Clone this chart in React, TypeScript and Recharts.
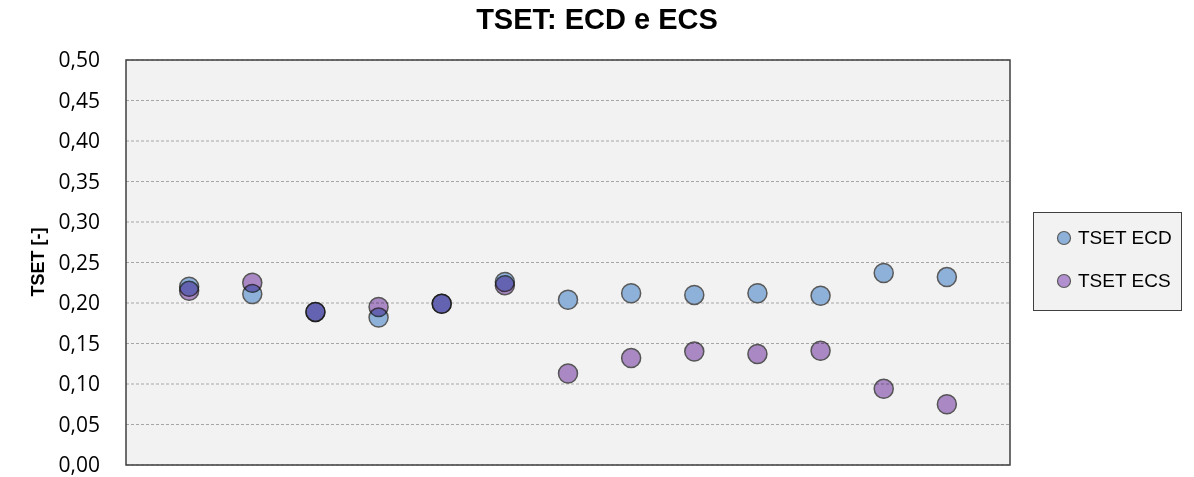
import React from "react";
import {
  ScatterChart,
  Scatter,
  XAxis,
  YAxis,
  CartesianGrid,
  ReferenceArea,
  Label,
} from "recharts";

// 13 campioni, valori
const samples = [1, 2, 3, 4, 5, 6, 7, 8, 9, 10, 11, 12, 13];
const tsetEcd = [0.22, 0.211, 0.189, 0.182, 0.199, 0.226, 0.204, 0.212, 0.21, 0.212, 0.209, 0.237, 0.232];
const tsetEcs = [0.215, 0.225, 0.189, 0.195, 0.199, 0.222, 0.113, 0.132, 0.14, 0.137, 0.141, 0.094, 0.075];
const yTicks = [0, 0.05, 0.1, 0.15, 0.2, 0.25, 0.3, 0.35, 0.4, 0.45, 0.5];

const series = [
  { name: "TSET ECD", values: tsetEcd, fill: "#8EB1DA", blend: "normal" },
  { name: "TSET ECS", values: tsetEcs, fill: "#B28FCF", blend: "multiply" },
];

const fmt = (v: number) => v.toFixed(2).replace(".", ",");

const Marker = (fill: string, blend: string) => (props: any) => {
  const { cx, cy } = props;
  return (
    <circle
      cx={cx}
      cy={cy}
      r={9.5}
      fill={fill}
      stroke="#595959"
      strokeWidth={1.5}
      style={{ mixBlendMode: blend as any }}
    />
  );
};

// legenda fuori dal grafico, così non ruba spazio all'area del plot
const LegendBox = () => (
  <div
    style={{
      position: "absolute",
      left: 1033,
      top: 212,
      boxSizing: "border-box",
      width: 149,
      height: 99,
      border: "1.5px solid #404040",
      background: "#F2F2F2",
      paddingTop: 3,
    }}
  >
    {series.map((s) => (
      <div
        key={s.name}
        style={{ display: "flex", alignItems: "center", height: 43, paddingLeft: 22 }}
      >
        <svg width={16} height={16} style={{ marginRight: 6 }}>
          <circle cx={8} cy={8} r={6.5} fill={s.fill} stroke="#595959" strokeWidth={1.2} />
        </svg>
        <span style={{ fontFamily: "Liberation Sans, Arial", fontSize: 19, color: "#000" }}>
          {s.name}
        </span>
      </div>
    ))}
  </div>
);

export default function App() {
  return (
    <div style={{ position: "absolute", left: 0, top: 0, width: 1194, height: 477, background: "#fff" }}>
      <div
        style={{
          position: "absolute",
          left: 597,
          top: 3,
          transform: "translateX(-50%)",
          whiteSpace: "nowrap",
          fontFamily: "Liberation Sans, Arial",
          fontWeight: "bold",
          fontSize: 29,
          color: "#000",
        }}
      >
        TSET: ECD e ECS
      </div>
      <ScatterChart
        width={1194}
        height={477}
        margin={{ top: 60, right: 184, bottom: 12, left: 0 }}
      >
        <CartesianGrid
          vertical={false}
          fill="#F2F2F2"
          stroke="#A6A6A6"
          strokeDasharray="3 2"
        />
        <XAxis type="number" dataKey="x" domain={[0, 14]} hide height={0} />
        <YAxis
          type="number"
          dataKey="y"
          domain={[0, 0.5]}
          ticks={yTicks}
          interval={0}
          width={126}
          axisLine={false}
          tickLine={false}
          tickSize={0}
          tickMargin={26}
          tickFormatter={fmt}
          tick={{ fontFamily: "Open Sans", fontSize: 21, fill: "#000" }}
        >
          <Label
            content={() => (
              <text
                x={44}
                y={262}
                transform="rotate(-90 44 262)"
                textAnchor="middle"
                fontFamily="Liberation Sans, Arial"
                fontWeight="bold"
                fontSize={18}
                fill="#000"
              >
                TSET [-]
              </text>
            )}
          />
        </YAxis>
        <ReferenceArea
          x1={0}
          x2={14}
          y1={0}
          y2={0.5}
          fill="none"
          stroke="#404040"
          strokeWidth={1.5}
          ifOverflow="visible"
        />
        {series.map((s) => (
          <Scatter
            key={s.name}
            name={s.name}
            data={samples.map((x, i) => ({ x, y: s.values[i] }))}
            fill={s.fill}
            shape={Marker(s.fill, s.blend)}
            isAnimationActive={false}
          />
        ))}
      </ScatterChart>
      <LegendBox />
    </div>
  );
}
